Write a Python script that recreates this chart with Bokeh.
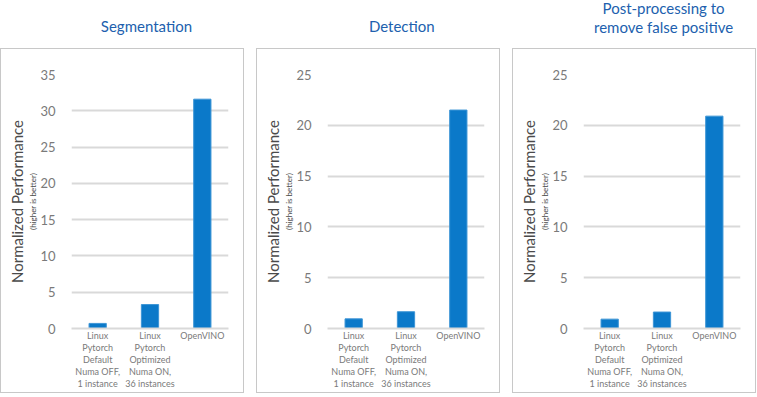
from bokeh.plotting import figure
from bokeh.layouts import row, column
from bokeh.models import Title, ColumnDataSource, FixedTicker, Range1d, Label
from bokeh.embed import file_html
from bokeh.resources import INLINE

categories = ["Linux\nPytorch\nDefault\nNuma OFF,\n1 instance",
              "Linux\nPytorch\nOptimized\nNuma ON,\n36 instances",
              "OpenVINO"]
titles = ["Segmentation", "Detection", "Post-processing to\nremove false positive"]
seg_values = [0.7, 3.3, 31.6]
det_values = [0.95, 1.65, 21.5]
post_values = [0.92, 1.62, 20.9]
y_max = [35, 25, 25]
y_ticks = [[0, 5, 10, 15, 20, 25, 30, 35], [0, 5, 10, 15, 20, 25], [0, 5, 10, 15, 20, 25]]
ylabel = "Normalized Performance"
ylabel_small = "(higher is better)"

FONT = "Lato"
BLUE = "#0b79c9"
TITLE_BLUE = "#215fae"
GREY = "#7a7a7a"
LABEL_GREY = "#4a4a4a"
GRID = "#d9d9d9"

W = 244
TH = 48
MH = 345
title_centers = [118, 117, 126]
title_bottoms = [34, 34, 36]


def make_title(text, cx, bottom):
    t = figure(width=W, height=TH, toolbar_location=None, output_backend="svg",
               min_border=0, x_range=Range1d(0, W), y_range=Range1d(0, TH),
               x_axis_location=None, y_axis_location=None)
    t.add_layout(Label(x=cx, y=TH - bottom, text=text, text_align="center",
                       text_baseline="bottom", text_font=FONT, text_font_size="15px",
                       text_color=TITLE_BLUE, text_line_height=1.1))
    t.grid.visible = False
    t.outline_line_color = None
    t.border_fill_color = None
    t.background_fill_color = None
    return t


def make_panel(values, ymax, ticks):
    src = ColumnDataSource(dict(cat=categories, val=values))
    p = figure(width=W, height=MH, x_range=categories, y_range=Range1d(0, ymax),
               toolbar_location=None, output_backend="svg",
               min_border_left=70, min_border_right=17, min_border_top=25,
               min_border_bottom=66)
    p.vbar(x="cat", top="val", width=0.33, source=src, fill_color=BLUE,
           line_color="#3d95d6", line_width=1)
    p.yaxis.ticker = FixedTicker(ticks=ticks)
    p.yaxis.axis_line_color = None
    p.yaxis.major_tick_line_color = None
    p.yaxis.minor_tick_line_color = None
    p.yaxis.major_label_text_font = FONT
    p.yaxis.major_label_text_font_size = "13px"
    p.yaxis.major_label_text_color = GREY
    p.yaxis.major_label_standoff = 10
    p.xaxis.axis_line_color = GRID
    p.xaxis.axis_line_width = 2
    p.xaxis.major_tick_line_color = None
    p.xaxis.major_tick_out = 0
    p.xaxis.major_tick_in = 0
    p.xaxis.major_label_text_font = FONT
    p.xaxis.major_label_text_font_size = "9px"
    p.xaxis.major_label_text_color = GREY
    p.xaxis.major_label_standoff = 1
    p.xaxis.major_label_text_line_height = 1.1
    p.xgrid.visible = False
    p.ygrid.grid_line_color = GRID
    p.ygrid.grid_line_width = 2
    p.outline_line_color = None
    p.add_layout(Title(text=ylabel_small, align="center", text_font=FONT,
                       text_font_size="8px", text_font_style="normal",
                       text_color=LABEL_GREY, standoff=0, offset=0), "left")
    p.add_layout(Title(text=ylabel, align="center", text_font=FONT,
                       text_font_size="15px", text_font_style="normal",
                       text_color=LABEL_GREY, standoff=0, offset=0), "left")
    p.styles = {"border": "1px solid #c8c8c8"}
    return p


cols = []
for title, cx, tb, vals, ym, tk in zip(titles, title_centers, title_bottoms,
                                       [seg_values, det_values, post_values], y_max, y_ticks):
    cols.append(column(make_title(title, cx, tb), make_panel(vals, ym, tk), spacing=0))

layout = row(*cols, spacing=12)

open("out.html", "w").write(file_html(layout, INLINE))
